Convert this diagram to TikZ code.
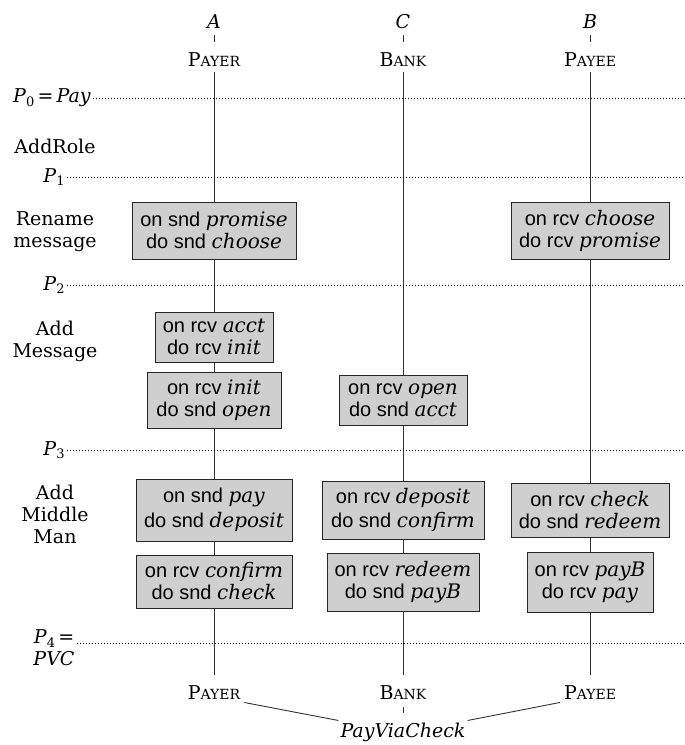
\documentclass[tikz,border=0pt]{standalone}
\usepackage{fontspec}
\setmainfont{DejaVu Serif}
\setsansfont{Liberation Sans}
\newcommand\labfont{\fontsize{19}{22}\selectfont}
\newcommand\bxfont{\sffamily\fontsize{20}{22}\selectfont}
\newcommand\msgw[1]{\textit{\rmfamily #1}}
\newcommand\fsc[2]{#1{\fontsize{14}{14}\selectfont #2}}
\newcommand\Psub[1]{\textit{P}\raisebox{-0.35ex}{\fontsize{13}{13}\selectfont #1}}
\begin{document}
\begin{tikzpicture}[x=1pt,y=-1pt,
  role/.style={inner sep=2pt, font=\labfont},
  life/.style={draw=black!80, line width=0.9pt},
  tick/.style={draw=black!80, line width=0.9pt},
  phase/.style={dash pattern=on 0.8pt off 2.2pt, line width=0.8pt},
  bx/.style={draw=black!85, fill=black!19, line width=0.9pt, inner sep=0pt, align=center, font=\bxfont},
  lbl/.style={align=center, font=\labfont, inner sep=2pt}]
\useasboundingbox (0,0) rectangle (685,745);
% role names
\node[role] (nA) at (214,22) {\textit{A}};
\node[role] (nC) at (403,22) {\textit{C}};
\node[role] (nB) at (590,22) {\textit{B}};
\node[role] (pyT) at (214,60) {\fsc{P}{AYER}};
\node[role] (bkT) at (403,60) {\fsc{B}{ANK}};
\node[role] (peT) at (590,60) {\fsc{P}{AYEE}};
\node[role] (pyB) at (214,693) {\fsc{P}{AYER}};
\node[role] (bkB) at (403,693) {\fsc{B}{ANK}};
\node[role] (peB) at (590,693) {\fsc{P}{AYEE}};
\node[role] (pvc) at (403,732) {\textit{PayViaCheck}};
% ticks
\draw[tick, shorten <=4pt, shorten >=9pt] (nA) -- (pyT);
\draw[tick, shorten <=4pt, shorten >=9pt] (nC) -- (bkT);
\draw[tick, shorten <=4pt, shorten >=9pt] (nB) -- (peT);
\draw[tick, shorten <=5pt, shorten >=7pt] (bkB) -- (pvc);
\draw[tick, shorten <=2pt] (pyB.south east) -- (pvc.north west);
\draw[tick, shorten <=2pt] (peB.south west) -- (pvc.north east);
% lifelines
\draw[life, shorten <=3pt, shorten >=9pt] (pyT) -- (pyB);
\draw[life, shorten <=3pt, shorten >=9pt] (bkT) -- (bkB);
\draw[life, shorten <=3pt, shorten >=9pt] (peT) -- (peB);
% phase labels and lines
\node[lbl] (p0) at (52,98) {\Psub{0}\,=\,\textit{Pay}};
\node[lbl] (p1) at (54,177) {\Psub{1}};
\node[lbl] (p2) at (54,285) {\Psub{2}};
\node[lbl] (p3) at (54,450) {\Psub{3}};
\node[lbl] (p4) at (54,648) {\Psub{4}\,=\\\textit{PVC}};
\coordinate (e0) at (685,98);
\coordinate (e1) at (685,177);
\coordinate (e2) at (685,285);
\coordinate (e3) at (685,450);
\coordinate (e4) at (685,643);
\draw[phase] (p0.east |- e0) -- (e0);
\draw[phase] (p1.east |- e1) -- (e1);
\draw[phase] (p2.east |- e2) -- (e2);
\draw[phase] (p3.east |- e3) -- (e3);
\draw[phase] (p4.east |- e4) -- (e4);
% step labels
\node[lbl] (s1) at (55,146) {AddRole};
\node[lbl] (s2) at (55,232) {Rename\\message};
\node[lbl] (s3) at (55,341) {Add\\Message};
\node[lbl] (s4) at (55,514) {Add\\Middle\\Man};
% boxes
\node[bx, minimum width=164pt, minimum height=57pt] (rA) at (214,230.5) {on snd \msgw{promise}\\do snd \msgw{choose}};
\node[bx, minimum width=158pt, minimum height=57pt] (rB) at (590,230.5) {on rcv \msgw{choose}\\do rcv \msgw{promise}};
\node[bx, minimum width=118pt, minimum height=50pt] (m1) at (214,337) {on rcv \msgw{acct}\\do rcv \msgw{init}};
\node[bx, minimum width=134pt, minimum height=56pt] (m2) at (214,400) {on rcv \msgw{init}\\do snd \msgw{open}};
\node[bx, minimum width=128pt, minimum height=50pt] (m3) at (403,400) {on rcv \msgw{open}\\do snd \msgw{acct}};
\node[bx, minimum width=156pt, minimum height=62pt] (a1) at (214,510) {on snd \msgw{pay}\\[3pt]do snd \msgw{deposit}};
\node[bx, minimum width=156pt, minimum height=53pt] (a2) at (214,581.5) {on rcv \msgw{confirm}\\do snd \msgw{check}};
\node[bx, minimum width=162pt, minimum height=58pt] (b1) at (403,510) {on rcv \msgw{deposit}\\[2pt]do snd \msgw{confirm}};
\node[bx, minimum width=152pt, minimum height=58pt] (b2) at (403,582) {on rcv \msgw{redeem}\\do snd \msgw{payB}};
\node[bx, minimum width=158pt, minimum height=54pt] (c1) at (590,510) {on rcv \msgw{check}\\do snd \msgw{redeem}};
\node[bx, minimum width=126pt, minimum height=60pt] (c2) at (590,582) {on rcv \msgw{payB}\\do rcv \msgw{pay}};
\end{tikzpicture}
\end{document}
